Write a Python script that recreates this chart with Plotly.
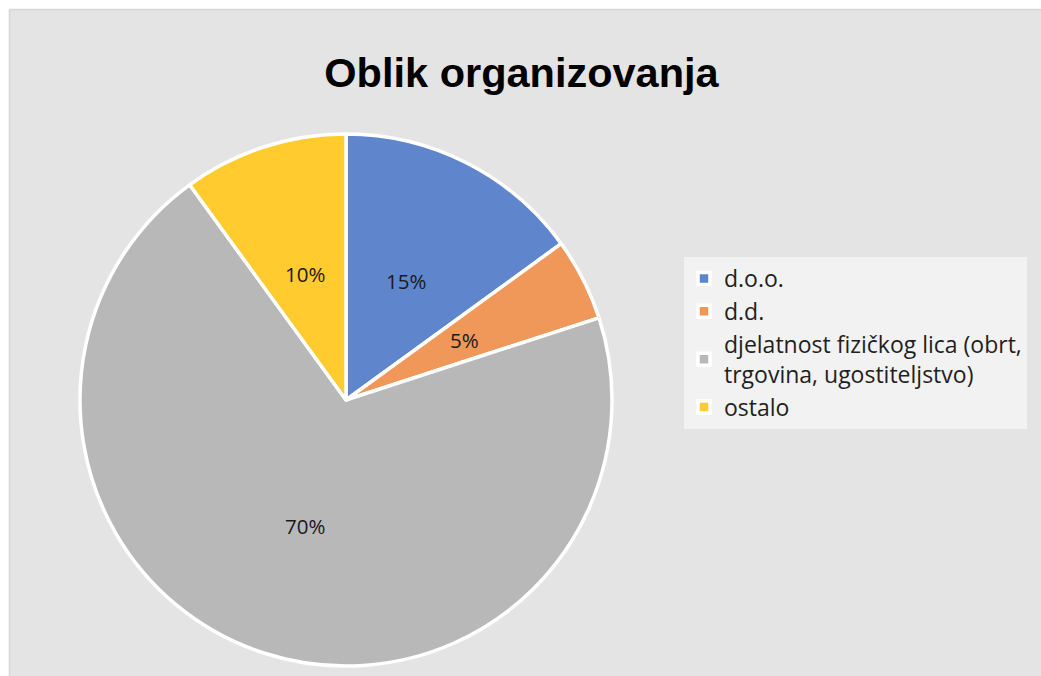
import math
import plotly.graph_objects as go

labels = ["d.o.o.", "d.d.", "djelatnost fizičkog lica (obrt,<br>trgovina, ugostiteljstvo)", "ostalo"]
values = [15, 5, 70, 10]
colors = ["#5f86cc", "#f0985a", "#b8b8b8", "#ffcb2e"]
title_text = "Oblik organizovanja"

W, H = 1041, 676

# pie geometry (pixels)
CX, CY, R = 346, 400, 266

fig = go.Figure()
fig.add_trace(go.Pie(
    labels=labels,
    values=values,
    sort=False,
    direction="clockwise",
    rotation=0,
    marker=dict(colors=colors, line=dict(color="white", width=3.5)),
    textinfo="none",
    domain=dict(x=[(CX - R) / W, (CX + R) / W], y=[1 - (CY + R) / H, 1 - (CY - R) / H]),
    hoverinfo="label+percent",
))

# percentage labels placed at half radius along each slice bisector
total = sum(values)
annotations = []
cum = 0
for v in values:
    mid = (cum + v / 2) / total * 2 * math.pi
    cum += v
    px = CX + 0.5 * R * math.sin(mid)
    py = CY - 0.5 * R * math.cos(mid)
    annotations.append(dict(
        x=px / W, y=1 - py / H, xref="paper", yref="paper",
        text=f"{round(v / total * 100)}%", showarrow=False,
        xanchor="center", yanchor="middle",
        font=dict(family="Open Sans, Liberation Sans, sans-serif", size=20.5, color="#1a1a1a"),
    ))

fig.update_layout(
    width=W, height=H,
    margin=dict(l=0, r=0, t=0, b=0),
    paper_bgcolor="white",
    annotations=annotations,
    shapes=[
        dict(type="rect", xref="paper", yref="paper",
             x0=9.5 / W, x1=1.05, y0=-0.05, y1=1 - 9.5 / H,
             fillcolor="#e4e4e4", line=dict(width=0), layer="below"),
        dict(type="line", xref="paper", yref="paper",
             x0=9.5 / W, x1=1.05, y0=1 - 9.5 / H, y1=1 - 9.5 / H,
             line=dict(color="#d6d6d6", width=1.5), layer="below"),
        dict(type="line", xref="paper", yref="paper",
             x0=9.5 / W, x1=9.5 / W, y0=-0.05, y1=1 - 9.5 / H,
             line=dict(color="#d6d6d6", width=1.5), layer="below"),
    ],
    title=dict(
        text="<b>" + title_text + "</b>",
        x=521.5 / W, xanchor="center",
        y=1 - 72 / H, yanchor="middle",
        font=dict(family="Liberation Sans, Arial, sans-serif", size=41.5, color="black"),
    ),
    legend=dict(
        x=684 / W, xanchor="left",
        y=1 - 257 / H, yanchor="top",
        bgcolor="#f2f2f2",
        font=dict(family="Open Sans, sans-serif", size=23, color="#1f1f1f"),
        itemwidth=30,
        traceorder="normal",
    ),
    showlegend=True,
)

fig.write_html(
    "out.html",
    config={"displayModeBar": False},
    post_script="document.body.style.margin='0';document.body.style.overflow='hidden';",
)
